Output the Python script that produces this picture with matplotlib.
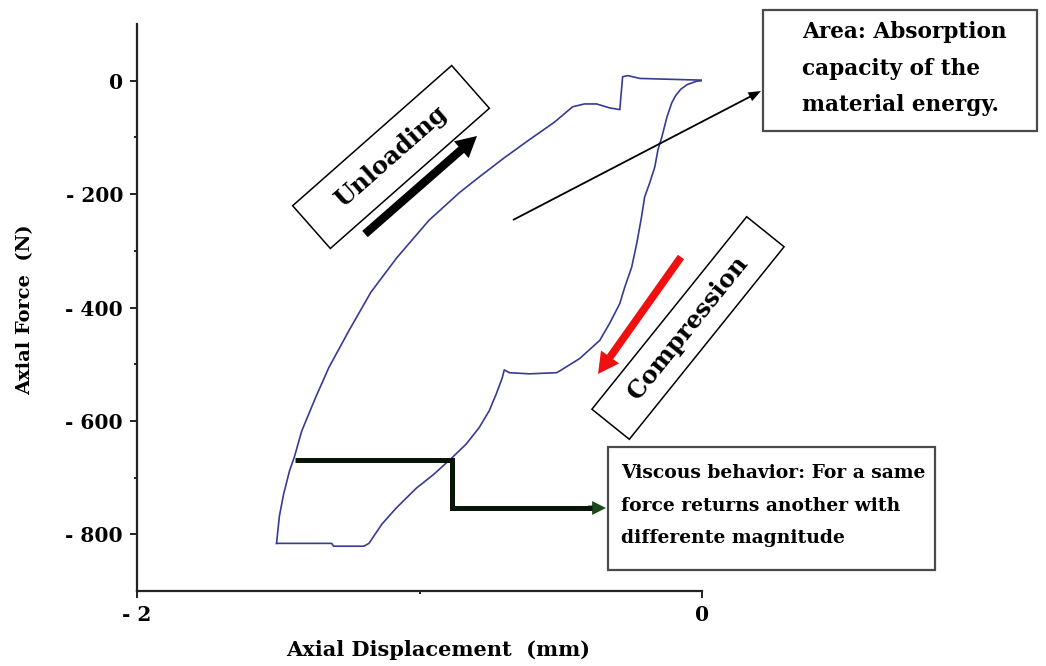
import numpy as np
import matplotlib
matplotlib.use("Agg")
import matplotlib.pyplot as plt
from matplotlib.patches import Polygon, Rectangle, FancyArrowPatch

# Compression branch: from the origin down to the peak load
compression_disp = [0.000, -0.020, -0.053, -0.075, -0.093, -0.107, -0.124, -0.142,
                    -0.156, -0.167, -0.185, -0.203, -0.214, -0.231, -0.249, -0.274,
                    -0.291, -0.327, -0.362, -0.433, -0.504, -0.515, -0.611, -0.682,
                    -0.700, -0.707, -0.728, -0.753, -0.789, -0.835, -0.885, -0.949,
                    -1.012, -1.083, -1.133, -1.179, -1.197, -1.304, -1.311, -1.506]
compression_force = [0, -1, -7, -15, -26, -39, -64, -99,
                     -122, -152, -180, -205, -240, -287, -329, -365,
                     -393, -428, -458, -490, -512, -515, -517, -515,
                     -510, -524, -552, -582, -612, -641, -665, -694,
                     -719, -754, -782, -816, -821, -821, -816, -816]

# Unloading branch: from the peak load back to zero force
unloading_disp = [-1.506, -1.496, -1.481, -1.460, -1.442, -1.417, -1.368, -1.321,
                  -1.250, -1.172, -1.080, -0.966, -0.860, -0.789, -0.700, -0.611,
                  -0.522, -0.458, -0.416, -0.373, -0.327, -0.291, -0.281, -0.263,
                  -0.220, -0.078, 0.000]
unloading_force = [-816, -768, -729, -688, -662, -618, -559, -506,
                   -441, -373, -312, -246, -198, -170, -136, -104,
                   -73, -46, -41, -41, -48, -51, 7, 9,
                   4, 2, 1]

y_ticks = [0, -200, -400, -600, -800]
y_tick_labels = ["0", "- 200", "- 400", "- 600", "- 800"]
x_ticks = [-2, 0]
x_tick_labels = ["- 2", "0"]

W, H = 1046, 666
FONT = "DejaVu Serif"
LINE_COLOR = "#363b94"


def fp(x, y):
    """Pixel position (origin top-left) to figure fraction."""
    return (x / W, 1 - y / H)


fig = plt.figure(figsize=(W / 100, H / 100), dpi=100)
ax = fig.add_axes([137 / W, 1 - 591 / H, (702 - 137) / W, (591 - 24) / H])

ax.plot(compression_disp, compression_force, color=LINE_COLOR, lw=1.2,
        solid_joinstyle="round")
ax.plot(unloading_disp, unloading_force, color=LINE_COLOR, lw=1.2,
        solid_joinstyle="round")

ax.set_xlim(-2, 0)
ax.set_ylim(-900, 100)
for side in ("top", "right"):
    ax.spines[side].set_visible(False)
for side in ("left", "bottom"):
    ax.spines[side].set_linewidth(1.6)
    ax.spines[side].set_color("#222222")

ax.set_yticks(y_ticks)
ax.set_yticklabels(y_tick_labels)
ax.set_yticks([-100, -300, -500, -700], minor=True)
ax.set_xticks(x_ticks)
ax.set_xticklabels(x_tick_labels)
ax.set_xticks([-1], minor=True)
ax.tick_params(which="major", direction="out", length=5, width=1.4,
               color="#222222", pad=5)
ax.tick_params(which="minor", direction="out", length=2, width=1.4,
               color="#222222")
for lab in ax.get_xticklabels() + ax.get_yticklabels():
    lab.set_fontfamily(FONT)
    lab.set_fontweight("bold")
    lab.set_fontsize(14.5)

fig.text(*fp(438, 650), "Axial Displacement  (mm)", family=FONT, weight="bold",
         fontsize=15, ha="center", va="center")
fig.text(*fp(25, 310), "Axial Force  (N)", family=FONT, weight="bold",
         fontsize=14, ha="center", va="center", rotation=90)


def rotated_box(cx, cy, length, width, angle, text, fontsize):
    a = np.deg2rad(angle)
    u = np.array([np.cos(a), -np.sin(a)])
    n = np.array([np.sin(a), np.cos(a)])
    c = np.array([cx, cy])
    corners = [c + u * length / 2 + n * width / 2,
               c + u * length / 2 - n * width / 2,
               c - u * length / 2 - n * width / 2,
               c - u * length / 2 + n * width / 2]
    poly = Polygon([fp(*p) for p in corners], closed=True, fill=True,
                   facecolor="white", edgecolor="black", lw=1.1,
                   transform=fig.transFigure)
    fig.add_artist(poly)
    fig.text(*fp(cx, cy), text, family=FONT, weight="bold", fontsize=fontsize,
             rotation=angle, rotation_mode="anchor", ha="center", va="center")


def arrow(p0, p1, style, color):
    fig.add_artist(FancyArrowPatch(fp(*p0), fp(*p1), transform=fig.transFigure,
                                   arrowstyle=style, mutation_scale=1,
                                   color=color, lw=0, shrinkA=0, shrinkB=0))


# Unloading label and arrow
rotated_box(391, 157, 212, 57, 41.4, "Unloading", 17.5)
arrow((365, 234), (477, 136), "simple,head_length=15,head_width=16,tail_width=6",
      "black")

# Compression label and arrow
rotated_box(688, 328, 247, 48, 51.2, "Compression", 17.5)
arrow((681, 257), (598, 374), "simple,head_length=15,head_width=16,tail_width=5.5",
      "#f01010")

# Energy absorption note
fig.add_artist(Rectangle(fp(763, 131), (1037 - 763) / W, (131 - 10) / H,
                         transform=fig.transFigure, facecolor="white",
                         edgecolor="#4a4a4a", lw=1.6))
for txt, yb in [("Area: Absorption", 38), ("capacity of the", 75),
                ("material energy.", 111)]:
    fig.text(*fp(802, yb), txt, family=FONT, weight="bold", fontsize=15.6,
             ha="left", va="baseline")
arrow((513, 220), (761, 91), "simple,head_length=9,head_width=7,tail_width=1.3",
      "black")

# Viscous behaviour note
fig.add_artist(Rectangle(fp(608, 570), (935 - 608) / W, (570 - 447) / H,
                         transform=fig.transFigure, facecolor="white",
                         edgecolor="#4a4a4a", lw=1.6))
for txt, yb in [("Viscous behavior: For a same", 478),
                ("force returns another with", 511),
                ("differente magnitude", 543)]:
    fig.text(*fp(621, yb), txt, family=FONT, weight="bold", fontsize=13.5,
             ha="left", va="baseline")

# Bracket linking equal forces on both branches
bx = [fp(295, 460)[0], fp(452, 460)[0], fp(452, 508)[0], fp(592, 508)[0]]
by = [fp(295, 460)[1], fp(452, 460)[1], fp(452, 508)[1], fp(592, 508)[1]]
fig.add_artist(plt.Line2D(bx, by, transform=fig.transFigure, color="#0a150a",
                          lw=3.6, solid_joinstyle="miter", solid_capstyle="butt"))
arrow((588, 508), (606, 508), "simple,head_length=10,head_width=10,tail_width=3.6",
      "#1d4a1d")

fig.savefig("out.png", dpi=100, facecolor="white")
